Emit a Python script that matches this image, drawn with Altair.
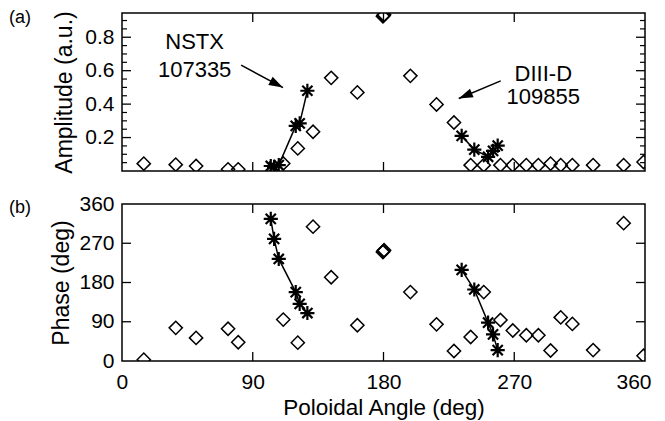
import altair as alt
import pandas as pd

FONT = "Liberation Sans"

# ---------------- data ----------------
# open diamonds (all probes), same poloidal angles in both panels
dia_angle = [15, 37, 51, 73, 80, 111, 121, 131.5, 144, 162, 179.6, 180, 180.4,
             198.5, 216.5, 228.5, 240, 249, 260.5, 269, 278.3, 286.6, 295, 302,
             310, 324.3, 345.3, 359]
dia_amp = [0.044, 0.038, 0.03, 0.01, 0.01, 0.045, 0.135, 0.235, 0.557, 0.47,
           0.925, 0.93, 0.935, 0.569, 0.398, 0.29, 0.035, 0.035, 0.035, 0.035,
           0.035, 0.035, 0.044, 0.035, 0.035, 0.035, 0.035, 0.054]
dia_phase = [3, 76, 53, 74, 43, 95, 42, 308, 192, 82, 250, 252, 254,
             158, 84, 23, 55, 158, 94, 70, 59, 59, 24, 100, 85, 25, 316, 12]

# NSTX 107335 (asterisks)
nstx_angle = [102.4, 104.7, 107.9, 119.6, 122.3, 127.6]
nstx_amp = [0.03, 0.025, 0.035, 0.27, 0.285, 0.48]
nstx_phase = [326, 280, 234, 158, 131, 110]

# DIII-D 109855 (asterisks)
d3d_angle = [233.8, 242.5, 252.0, 255.4, 258.6]
d3d_amp = [0.21, 0.128, 0.085, 0.12, 0.152]
d3d_phase = [209, 164, 88, 61, 25]

# axis ticks
x_labels = [0, 90, 180, 270, 360]
x_ticks = [90, 180, 270]
amp_major = [0.2, 0.4, 0.6, 0.8]
amp_minor = [0.05, 0.1, 0.15, 0.25, 0.3, 0.35, 0.45, 0.5, 0.55, 0.65, 0.7,
             0.75, 0.85, 0.9]
phase_labels = [0, 90, 180, 270, 360]
phase_ticks = [90, 180, 270]

# annotations
ann_text = ["NSTX", "107335", "DIII-D", "109855"]
ann_angle = [50, 50, 290, 290]
ann_amp = [0.771, 0.603, 0.582, 0.444]
arrow_id = ["n", "n", "d", "d"]
arrow_angle = [82.0, 110.8, 260.7, 231.8]
arrow_amp = [0.633, 0.499, 0.539, 0.434]
tip_angle = [110.8, 231.8]
tip_amp = [0.499, 0.434]
tip_rot = [118, 247]

panel_labels = ["(a)", "(b)"]

# ---------------- layout constants ----------------
W = 523
H1 = 158
H2 = 157
MAJ = 9
MIN = 5

STAR = "M-1,0L1,0M0,-1L0,1M-0.72,-0.72L0.72,0.72M-0.72,0.72L0.72,-0.72"
HEAD = "M0,0L-0.65,2L0.65,2Z"

xs = alt.Scale(domain=[0, 360], nice=False, zero=False)
ys1 = alt.Scale(domain=[0, 0.945], nice=False, zero=False)
ys2 = alt.Scale(domain=[0, 360], nice=False, zero=False)

ax_amp = alt.Axis(title="Amplitude (a.u.)", values=amp_major, format=".1f",
                  ticks=False, domain=False, grid=False, labelPadding=8,
                  titlePadding=8, titleFontSize=23, labelFlush=False)
ax_phase = alt.Axis(title="Phase (deg)", values=phase_labels, ticks=False,
                    domain=False, grid=False, labelPadding=8, titlePadding=5,
                    titleFontSize=23, labelFlush=False)
ax_x = alt.Axis(title="Poloidal Angle (deg)", values=x_labels, ticks=False,
                domain=False, grid=False, labelPadding=10, titlePadding=4,
                titleFontSize=22.5, labelFlush=True, labelFlushOffset=6)

dia_df = pd.DataFrame({"angle": dia_angle, "amp": dia_amp, "phase": dia_phase})
star_df = pd.DataFrame({
    "angle": nstx_angle + d3d_angle,
    "amp": nstx_amp + d3d_amp,
    "phase": nstx_phase + d3d_phase,
    "shot": ["NSTX"] * len(nstx_angle) + ["DIII-D"] * len(d3d_angle),
})


def panel(yfield, ys, yax, xax, H, major, minor, label, label_y):
    X = alt.X("angle:Q", scale=xs, axis=xax)
    Y = alt.Y(f"{yfield}:Q", scale=ys, axis=yax)
    layers = []
    layers.append(alt.Chart(dia_df).mark_point(
        shape="diamond", filled=False, color="black", size=175,
        strokeWidth=1.5, clip=True, opacity=1).encode(x=X, y=Y))
    layers.append(alt.Chart(star_df).mark_line(
        color="black", strokeWidth=1.5, clip=True).encode(
        x=X, y=Y, detail="shot:N", order="angle:Q"))
    layers.append(alt.Chart(star_df).mark_point(
        shape=STAR, filled=False, color="black", size=200,
        strokeWidth=2.2, clip=True, opacity=1).encode(x=X, y=Y))
    # inward ticks on y
    mdf = pd.DataFrame({"v": major})
    YV = alt.Y("v:Q", scale=ys, axis=yax)
    layers.append(alt.Chart(mdf).mark_rule(color="black", strokeWidth=1.3).encode(
        y=YV, x=alt.value(0), x2=alt.value(MAJ)))
    layers.append(alt.Chart(mdf).mark_rule(color="black", strokeWidth=1.3).encode(
        y=YV, x=alt.value(W - MAJ), x2=alt.value(W)))
    if minor:
        ndf = pd.DataFrame({"v": minor})
        layers.append(alt.Chart(ndf).mark_rule(color="black", strokeWidth=1.2).encode(
            y=YV, x=alt.value(0), x2=alt.value(MIN)))
        layers.append(alt.Chart(ndf).mark_rule(color="black", strokeWidth=1.2).encode(
            y=YV, x=alt.value(W - MIN), x2=alt.value(W)))
    # inward ticks on x
    xdf = pd.DataFrame({"v": x_ticks})
    XV = alt.X("v:Q", scale=xs, axis=xax)
    layers.append(alt.Chart(xdf).mark_rule(color="black", strokeWidth=1.3).encode(
        x=XV, y=alt.value(0), y2=alt.value(MAJ)))
    layers.append(alt.Chart(xdf).mark_rule(color="black", strokeWidth=1.3).encode(
        x=XV, y=alt.value(H - MAJ), y2=alt.value(H)))
    # panel label
    layers.append(alt.Chart(pd.DataFrame({"t": [label]})).mark_text(
        align="left", baseline="middle", fontSize=18, font=FONT,
        color="black").encode(text="t:N", x=alt.value(-113),
                              y=alt.value(label_y)))
    return layers


top_layers = panel("amp", ys1, ax_amp, None, H1, amp_major, amp_minor,
                   panel_labels[0], 5)

ann_df = pd.DataFrame({"t": ann_text, "angle": ann_angle, "amp": ann_amp})
top_layers.append(alt.Chart(ann_df).mark_text(
    fontSize=22, font=FONT, color="black", align="center",
    baseline="middle").encode(
    x=alt.X("angle:Q", scale=xs, axis=None),
    y=alt.Y("amp:Q", scale=ys1, axis=ax_amp), text="t:N"))
arr_df = pd.DataFrame({"id": arrow_id, "angle": arrow_angle, "amp": arrow_amp})
top_layers.append(alt.Chart(arr_df).mark_line(color="black", strokeWidth=1.5).encode(
    x=alt.X("angle:Q", scale=xs, axis=None),
    y=alt.Y("amp:Q", scale=ys1, axis=ax_amp), detail="id:N"))
for a, b, r in zip(tip_angle, tip_amp, tip_rot):
    top_layers.append(alt.Chart(pd.DataFrame({"angle": [a], "amp": [b]})).mark_point(
        shape=HEAD, filled=True, color="black", size=200, angle=r,
        opacity=1).encode(
        x=alt.X("angle:Q", scale=xs, axis=None),
        y=alt.Y("amp:Q", scale=ys1, axis=ax_amp)))

top = alt.layer(*top_layers).properties(width=W, height=H1)

bottom_layers = panel("phase", ys2, ax_phase, ax_x, H2, phase_ticks, None,
                      panel_labels[1], 4)
bottom = alt.layer(*bottom_layers).properties(width=W, height=H2)

chart = alt.vconcat(top, bottom, spacing=18).properties(padding=0).configure_view(
    stroke="black", strokeWidth=1.5
).configure_axis(
    labelFont=FONT, labelFontSize=21, labelColor="black",
    titleFont=FONT, titleColor="black", titleFontWeight="normal"
)

chart.save("out.html", embed_options={"renderer": "svg", "actions": False})
